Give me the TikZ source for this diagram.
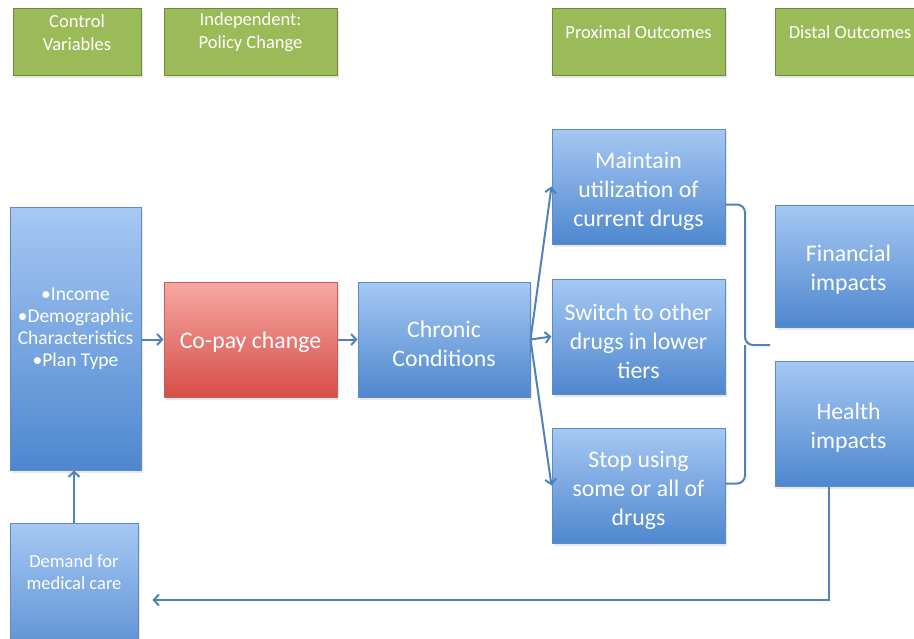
\documentclass[tikz,border=0pt]{standalone}
\usepackage{fontspec}
\setmainfont{Carlito}
\usetikzlibrary{positioning,arrows.meta,shadows}
\definecolor{headGreen}{RGB}{155,187,89}
\definecolor{headGreenLine}{RGB}{113,137,63}
\definecolor{boxTop}{RGB}{166,200,243}
\definecolor{boxBottom}{RGB}{78,135,207}
\definecolor{boxLine}{RGB}{96,138,196}
\definecolor{redTop}{RGB}{246,168,163}
\definecolor{redBottom}{RGB}{214,78,72}
\definecolor{redLine}{RGB}{196,96,90}
\definecolor{flowColor}{RGB}{79,129,189}
\tikzstyle{slide} = [x = 1pt, y = -1pt]
\tikzstyle{softShadow} = [drop shadow={opacity=.18, shadow xshift=1.5pt, shadow yshift=-2.5pt}]
\tikzstyle{headerStyle} = [draw=headGreenLine, fill=headGreen, line width=1pt, inner sep=0pt, minimum height=67pt, softShadow]
\tikzstyle{headerText} = [text=white, align=center, font=\fontsize{18.5}{23}\selectfont]
\tikzstyle{blueBox} = [draw=boxLine, top color=boxTop, bottom color=boxBottom, line width=1pt, inner sep=0pt, softShadow]
\tikzstyle{redBox} = [blueBox, draw=redLine, top color=redTop, bottom color=redBottom]
\tikzstyle{outcomeSize} = [minimum width=173pt, minimum height=115pt]
\tikzstyle{distalSize} = [minimum width=147pt]
\tikzstyle{boxText} = [text=white, align=center, font=\fontsize{23.8}{29}\selectfont]
\tikzstyle{smallText} = [text=white, align=center, font=\fontsize{18.5}{22}\selectfont]
\tikzstyle{flow} = [flowColor, line width=2pt, -{Straight Barb[length=5pt, width=11pt]}]
\tikzstyle{braceLine} = [flowColor, line width=2pt, rounded corners=8pt]

\begin{document}
\begin{tikzpicture}[slide]
  \path [use as bounding box, clip] (0,0) rectangle (914,638);

  % header row
  \node [headerStyle, minimum width=128pt] (ctrlHead) at (77,41.5) {};
  \node [headerText] (ctrlHeadText) at (77,32.5) {Control\\Variables};
  \node [headerStyle, minimum width=173pt] (indepHead) at (250.5,41.5) {};
  \node [headerText] (indepHeadText) at (250.5,32.5) {Independent:\\Policy Change};
  \node [headerStyle, minimum width=173pt] (proxHead) at (638.5,41.5) {};
  \node [headerText] (proxHeadText) at (638.5,32) {Proximal Outcomes};
  \node [headerStyle, distalSize] (distHead) at (848.5,41.5) {};
  \node [headerText] (distHeadText) at (850,32) {Distal Outcomes};

  % boxes
  \node [blueBox, minimum width=131pt, minimum height=263pt] (ctrl) at (75.5,338.5) {};
  \node [redBox, outcomeSize] (copay) at (250.5,339.5) {};
  \node [blueBox, minimum width=172pt, minimum height=115pt] (chronic) at (444,339.5) {};
  \node [blueBox, outcomeSize] (maintain) at (638.5,186.5) {};
  \node [blueBox, outcomeSize] (switch) at (638.5,336.5) {};
  \node [blueBox, outcomeSize] (stop) at (638.5,485.5) {};
  \node [blueBox, distalSize, minimum height=122pt] (financial) at (848.5,266) {};
  \node [blueBox, distalSize, minimum height=125pt] (health) at (848.5,423.5) {};
  \node [blueBox, minimum width=128pt, minimum height=154pt] (demand) at (74,600) {};

  % box texts
  \node [smallText, font=\fontsize{19.5}{22}\selectfont] (ctrlText) at (75.5,329) {•Income\\•Demographic\\Characteristics\\•Plan Type};
  \node [boxText] (copayText) at ([yshift=-3pt]copay) {Co-pay change};
  \node [boxText] (chronicText) at ([yshift=-4pt]chronic) {Chronic\\Conditions};
  \node [boxText] (maintainText) at ([yshift=-4.5pt]maintain) {Maintain\\utilization of\\current drugs};
  \node [boxText] (switchText) at ([yshift=-4.5pt]switch) {Switch to other\\drugs in lower\\tiers};
  \node [boxText] (stopText) at ([yshift=-4.5pt]stop) {Stop using\\some or all of\\drugs};
  \node [boxText] (financialText) at ([yshift=-4pt]financial) {Financial\\impacts};
  \node [boxText] (healthText) at ([yshift=-4.5pt]health) {Health\\impacts};
  \node [smallText] (demandText) at (74,572) {Demand for\\medical care};

  % arrows
  \draw [flow] (ctrl.east |- copay.west) -- (copay.west);
  \draw [flow] (copay) -- (chronic);
  \draw [flow] (chronic.east) -- (maintain.west);
  \draw [flow] (chronic.east) -- (switch.west);
  \draw [flow] (chronic.east) -- (stop.west);

  \coordinate (braceTip) at (770,345);
  \draw [braceLine] ([yshift=-18pt]maintain.east) -| ([xshift=-25pt]braceTip) -- (braceTip);
  \draw [braceLine] ([yshift=2pt]stop.east) -| ([xshift=-25pt]braceTip);

  \draw [flow, shorten >=14pt] ([xshift=-20pt]health.south) |- (demand.east);
  \draw [flow] (demand.north) -- (demand.north |- ctrl.south);
\end{tikzpicture}
\end{document}
